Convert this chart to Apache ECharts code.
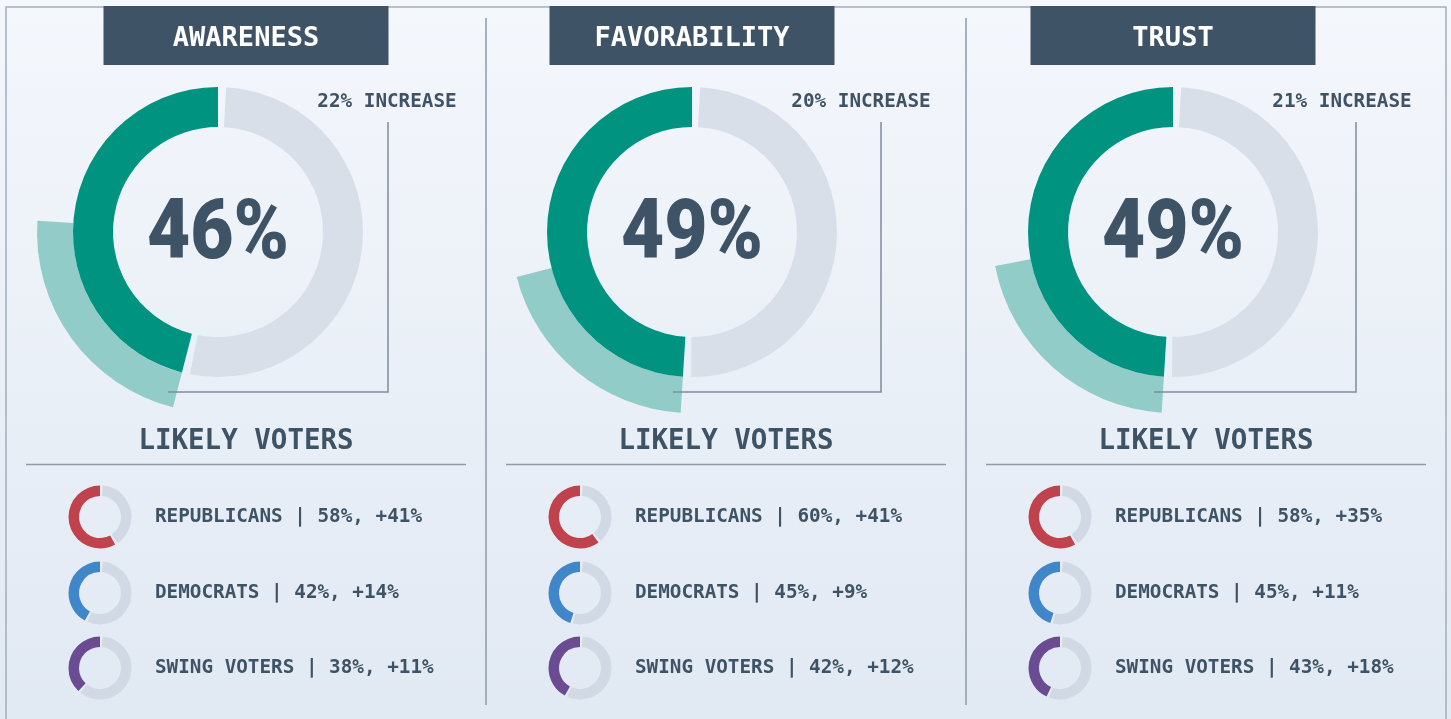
<!DOCTYPE html>
<html>
<head>
<meta charset="utf-8">
<script src="https://cdn.jsdelivr.net/npm/echarts@6/dist/echarts.min.js"></script>
<style>
  html, body { margin: 0; padding: 0; background: #eef2f8; }
  #main { width: 1451px; height: 719px; }
</style>
</head>
<body>
<div id="main"></div>
<script>
var metricNames = ["AWARENESS", "FAVORABILITY", "TRUST"];
var metricValues = [46, 49, 49];
var metricIncrease = [22, 20, 21];

var groupNames = ["REPUBLICANS", "DEMOCRATS", "SWING VOTERS"];
var groupValues = [
  [58, 42, 38],
  [60, 45, 42],
  [58, 45, 43],
];
var groupChange = [
  [41, 14, 11],
  [41, 9, 12],
  [35, 11, 18],
];
var groupColors = ["#c0424c", "#3f87c8", "#6b4c93"];

// layout of the three panels
var panelMid = [246, 726, 1206];
var ringX = [218, 692, 1173];
var titleX = [246, 692, 1173];
var bracketX = [388, 881, 1356];
var ringY = 232;
var rowY = [517, 593, 668];

var ink = "#3e5366";
var mono = "'DejaVu Sans Mono', 'Liberation Mono', monospace";
var none = { color: "rgba(0,0,0,0)" };

var chartDom = document.getElementById("main");
var chart = echarts.init(chartDom);
var series = [];
var graphics = [];

function label(x, y, text, font, fill, align, extra) {
  var el = {
    type: "text",
    x: x,
    y: y,
    style: {
      text: text,
      font: font,
      fill: fill,
      textAlign: align,
      textVerticalAlign: "middle",
      align: align,
      verticalAlign: "middle",
    },
  };
  for (var k in extra || {}) el[k] = extra[k];
  return el;
}

// outer frame and separators
graphics.push({
  type: "rect",
  shape: { x: 6, y: 7, width: 1440, height: 740 },
  style: { fill: "none", stroke: "#a3aebb", lineWidth: 1.5 },
  z: 1,
});
[486, 966].forEach(function (x) {
  graphics.push({
    type: "line",
    shape: { x1: x, y1: 18, x2: x, y2: 705 },
    style: { stroke: "#8e9aa7", lineWidth: 1.5 },
  });
});

for (var p = 0; p < metricNames.length; p++) {
  var val = metricValues[p];
  var inc = metricIncrease[p];
  var gap = 0.9;

  // increase band, outside the main ring
  series.push({
    type: "pie",
    silent: true,
    animation: false,
    center: [ringX[p], ringY],
    radius: [145, 181],
    startAngle: 90,
    clockwise: false,
    label: { show: false },
    labelLine: { show: false },
    data: [
      { value: val - inc, itemStyle: none },
      { value: inc, itemStyle: { color: "#92ccc8" } },
      { value: 100 - val, itemStyle: none },
    ],
    z: 2,
  });

  // main ring
  series.push({
    type: "pie",
    silent: true,
    animation: false,
    center: [ringX[p], ringY],
    radius: [105, 145],
    startAngle: 90,
    clockwise: false,
    label: { show: false },
    labelLine: { show: false },
    data: [
      { value: val, itemStyle: { color: "#009380" } },
      { value: gap, itemStyle: none },
      { value: 100 - val - 2 * gap, itemStyle: { color: "#d9dfe8" } },
      { value: gap, itemStyle: none },
    ],
    z: 3,
  });

  // big number in the ring
  graphics.push(
    label(0, 0, val + "%", "900 84px Roboto, sans-serif", ink, "center", {
      x: ringX[p],
      y: ringY + 5,
      scaleX: 0.89,
      z: 6,
    })
  );

  // small rings per voter group
  for (var g = 0; g < groupNames.length; g++) {
    var gv = groupValues[p][g];
    var sgap = 1.4;
    series.push({
      type: "pie",
      silent: true,
      animation: false,
      center: [panelMid[p] - 146, rowY[g]],
      radius: [21, 31.5],
      startAngle: 90,
      clockwise: false,
      label: { show: false },
      labelLine: { show: false },
      data: [
        { value: gv, itemStyle: { color: groupColors[g] } },
        { value: sgap, itemStyle: none },
        { value: 100 - gv - 2 * sgap, itemStyle: { color: "#d0d9e4" } },
        { value: sgap, itemStyle: none },
      ],
    });
    graphics.push(
      label(
        panelMid[p] - 91,
        rowY[g],
        groupNames[g] + " | " + gv + "%, +" + groupChange[p][g] + "%",
        "bold 19.3px " + mono,
        ink,
        "left"
      )
    );
  }

  // title box
  graphics.push({
    type: "rect",
    shape: { x: titleX[p] - 142.5, y: 6, width: 285, height: 59 },
    style: { fill: "#3f5366" },
    z: 5,
  });
  graphics.push(label(titleX[p], 39, metricNames[p], "bold 27px " + mono, "#ffffff", "center", { z: 6 }));

  // increase annotation with bracket line
  var endAngle = ((val / 100) * 360 * Math.PI) / 180;
  var dy = 160;
  var endX = ringX[p] - (dy / -Math.cos(endAngle)) * Math.sin(endAngle) - 9;
  graphics.push(label(ringX[p] + 169, 102, inc + "% INCREASE", "bold 19.3px " + mono, ink, "center"));
  graphics.push({
    type: "polyline",
    shape: { points: [[bracketX[p], 122], [bracketX[p], ringY + dy], [endX, ringY + dy]] },
    style: { stroke: "#7f8c99", lineWidth: 1.5, fill: "none" },
    z: 4,
  });

  // likely voters heading
  graphics.push(label(panelMid[p], 442, "LIKELY VOTERS", "bold 27.5px " + mono, ink, "center"));
  graphics.push({
    type: "line",
    shape: { x1: panelMid[p] - 220, y1: 464.5, x2: panelMid[p] + 220, y2: 464.5 },
    style: { stroke: "#8e9aa7", lineWidth: 1.5 },
  });
}

var option = {
  backgroundColor: new echarts.graphic.LinearGradient(0, 0, 0, 1, [
    { offset: 0, color: "#f4f7fc" },
    { offset: 1, color: "#e1e9f3" },
  ]),
  animation: false,
  series: series,
  graphic: { elements: graphics },
};

chart.setOption(option);
</script>
</body>
</html>
